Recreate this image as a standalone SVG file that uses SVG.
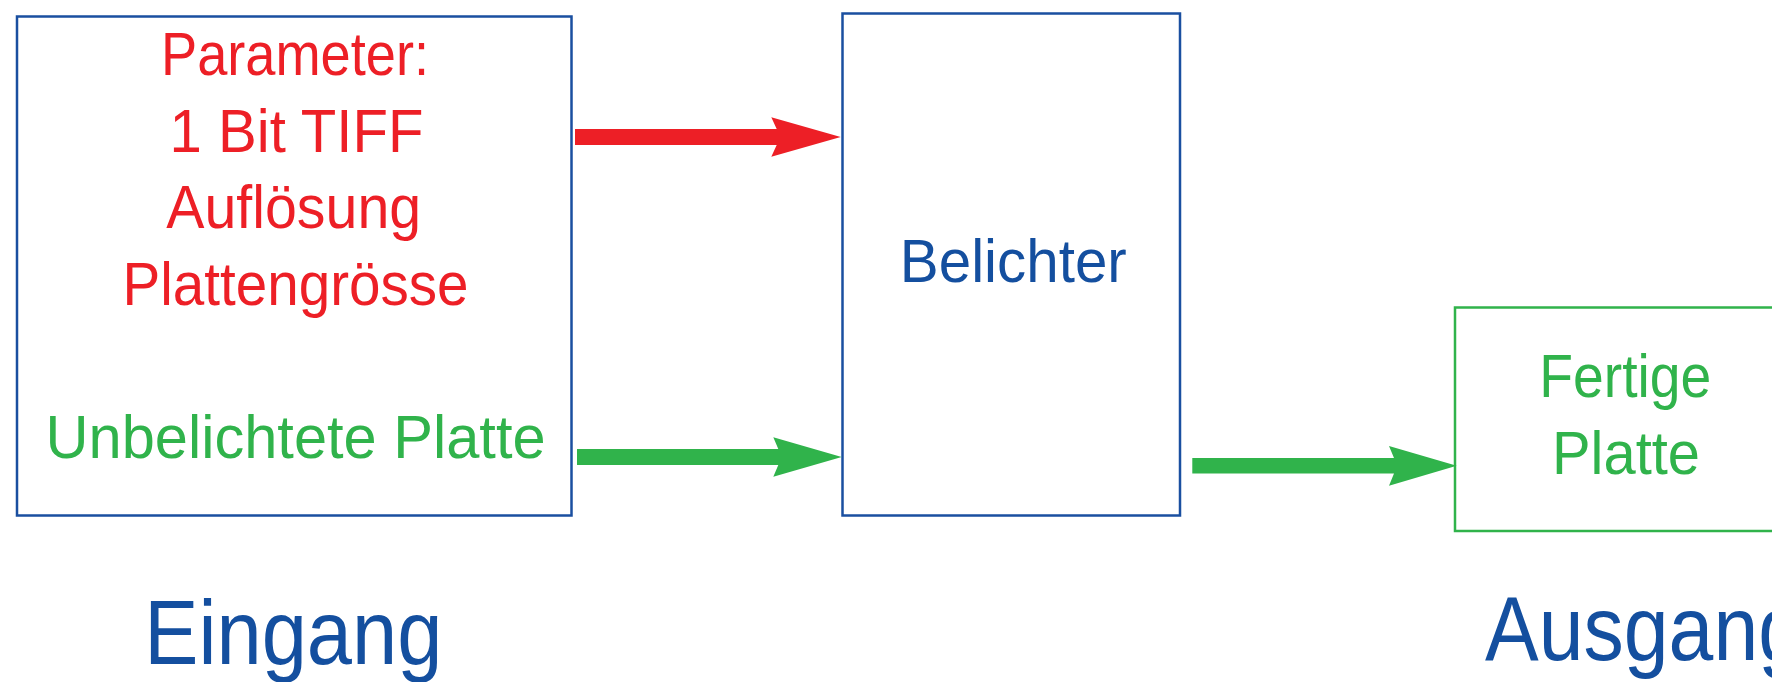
<svg xmlns="http://www.w3.org/2000/svg" width="1772" height="682" viewBox="0 0 1772 682">
<style>
.box{fill:#fff;stroke:#1a4fa0;stroke-width:2.5}
.gbox{fill:#fff;stroke:#30b34b;stroke-width:2.5}
text{font-family:"Liberation Sans",Arial,sans-serif;text-anchor:middle}
.t{font-size:61px}
.big{font-size:91px;fill:#144f9f}
.red{fill:#ed1f26}
.grn{fill:#30b34b}
.blu{fill:#144f9f}
</style>
<rect width="1772" height="682" fill="#fff"/>
<g id="eingang-box">
<rect class="box" x="17" y="16.5" width="554.5" height="499"/>
<text class="t red" x="295" y="75" textLength="268" lengthAdjust="spacingAndGlyphs">Parameter:</text>
<text class="t red" x="296.5" y="151.7" textLength="254" lengthAdjust="spacingAndGlyphs">1 Bit TIFF</text>
<text class="t red" x="293.7" y="228.3" textLength="255" lengthAdjust="spacingAndGlyphs">Auflösung</text>
<text class="t red" x="295.5" y="305" textLength="346" lengthAdjust="spacingAndGlyphs">Plattengrösse</text>
<text class="t grn" x="295.6" y="458.3" textLength="500" lengthAdjust="spacingAndGlyphs">Unbelichtete Platte</text>
</g>
<g id="belichter">
<rect class="box" x="842.5" y="13.5" width="337.5" height="502"/>
<text class="t blu" x="1013.3" y="281.7" textLength="227" lengthAdjust="spacingAndGlyphs">Belichter</text>
</g>
<g id="fertige-platte">
<rect class="gbox" x="1455" y="307.5" width="400" height="223.5"/>
<text class="t grn" x="1625.3" y="397.3" textLength="172" lengthAdjust="spacingAndGlyphs">Fertige</text>
<text class="t grn" x="1626" y="474" textLength="148" lengthAdjust="spacingAndGlyphs">Platte</text>
</g>
<g id="label-eingang">
<text class="big" x="293.3" y="664.3" textLength="298" lengthAdjust="spacingAndGlyphs">Eingang</text>
</g>
<g id="label-ausgang">
<text class="big" x="1485" y="660" style="text-anchor:start" textLength="318" lengthAdjust="spacingAndGlyphs">Ausgang</text>
</g>
<g id="connectors">
<path class="red" d="M575,129 H776.7 L771.3,117.3 L840.7,137 L771.3,156.7 L776.7,145 H575 Z"/>
<path class="grn" d="M577,449 H778.3 L773.3,437.3 L841.7,457 L773.3,476.7 L778.3,465 H577 Z"/>
<path class="grn" d="M1192.3,458 H1394 L1389,446 L1456.7,465.7 L1389,485.7 L1394,473.5 H1192.3 Z"/>
</g>
</svg>
